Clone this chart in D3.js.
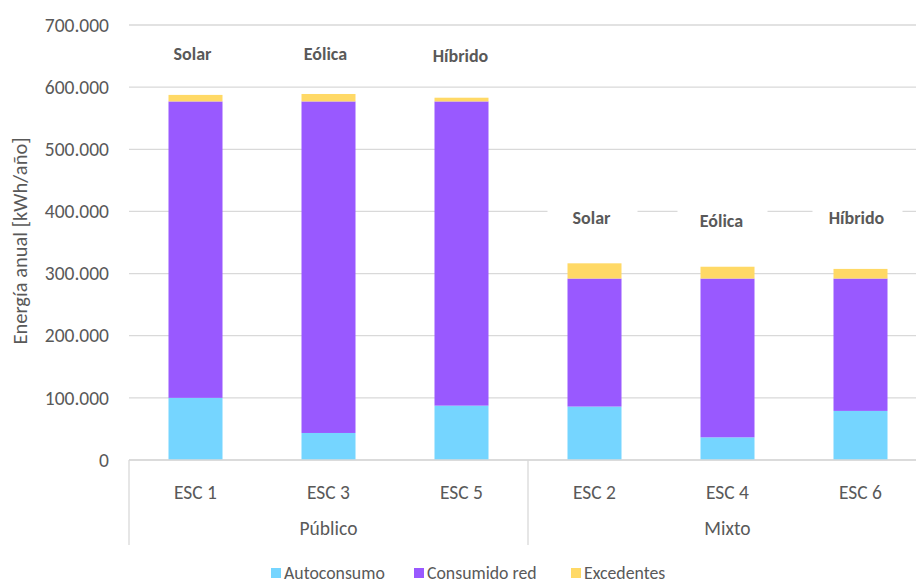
<!DOCTYPE html>
<html><head><meta charset="utf-8">
<script src="https://cdn.jsdelivr.net/npm/d3@7"></script>
<style>
html,body{margin:0;padding:0;background:#fff;}
svg{display:block;font-family:Carlito, Lato, "Open Sans", sans-serif;}
</style></head>
<body><svg id="c" width="916" height="583"></svg>
<script>
const categories = ["ESC 1","ESC 3","ESC 5","ESC 2","ESC 4","ESC 6"];
const groups = ["Público","Mixto"];
const autoconsumo = [100000, 43500, 87500, 86000, 36500, 79000];
const consumidoRed = [477000, 533500, 489500, 206000, 255500, 213000];
const excedentes = [10500, 12000, 6000, 24500, 19000, 15500];
const seriesNames = ["Autoconsumo","Consumido red","Excedentes"];
const colors = ["#75D5FF","#9959FF","#FFD966"];
const yTicks = [0,100000,200000,300000,400000,500000,600000,700000];
const tecnologia = ["Solar","Eólica","Híbrido","Solar","Eólica","Híbrido"];

const svg = d3.select("#c");
const W = 916, H = 583;
svg.append("rect").attr("width",W).attr("height",H).attr("fill","#fff");

const x = d3.scaleBand().domain(categories).range([129, 927]).paddingInner(0.594).paddingOuter(0.297);
const y = d3.scaleLinear().domain([0,700000]).range([460, 25]);
const loc = d3.formatLocale({decimal:",", thousands:".", grouping:[3], currency:["",""]});
const fmt = loc.format(",.0f");
const textCol = "#595959", gridCol = "#D9D9D9";

// gridlines
svg.append("g").selectAll("line").data(yTicks).join("line")
  .attr("x1",129).attr("x2",W).attr("y1",d=>y(d)).attr("y2",d=>y(d))
  .attr("stroke",gridCol).attr("stroke-width",1.3);

// y tick labels via axis
const yAxis = d3.axisLeft(y).tickValues(yTicks).tickFormat(d=>fmt(d)).tickSize(0).tickPadding(0);
const ya = svg.append("g").attr("transform","translate(109,0)").call(yAxis);
ya.select(".domain").remove();
ya.selectAll("text").attr("fill",textCol).style("font-size","19.5px").style("font-family","Carlito, Lato, sans-serif");

// y title
svg.append("text").attr("transform","translate(20,241) rotate(-90)")
  .attr("text-anchor","middle").attr("dy","0.35em").attr("fill",textCol).style("font-size","20.5px")
  .text("Energía anual [kWh/año]");

// stacked data
const rows = categories.map((c,i)=>({cat:c, Autoconsumo:autoconsumo[i], "Consumido red":consumidoRed[i], Excedentes:excedentes[i]}));
const stack = d3.stack().keys(seriesNames)(rows);
svg.append("g").selectAll("g").data(stack).join("g").attr("fill",(d,i)=>colors[i])
  .selectAll("rect").data(d=>d).join("rect")
  .attr("x",d=>x(d.data.cat)).attr("width",x.bandwidth())
  .attr("y",d=>y(d[1])).attr("height",d=>y(d[0])-y(d[1]));

// category axis
svg.append("line").attr("x1",129).attr("x2",W).attr("y1",y(0)).attr("y2",y(0)).attr("stroke",gridCol).attr("stroke-width",1.3);
const step = x.step();
const boundaries = [0,3,6].map(i=> 129 + i*step);
svg.append("g").selectAll("line").data(boundaries).join("line")
  .attr("x1",d=>d).attr("x2",d=>d).attr("y1",y(0)).attr("y2",545)
  .attr("stroke",gridCol).attr("stroke-width",1.3);
svg.append("g").selectAll("text").data(categories).join("text")
  .attr("x",d=>x(d)+x.bandwidth()/2).attr("y",492).attr("dy","0.35em")
  .attr("text-anchor","middle").attr("fill",textCol).style("font-size","19.5px").text(d=>d);
svg.append("g").selectAll("text").data(groups).join("text")
  .attr("x",(d,i)=>129 + (i*3+1.5)*step).attr("y",528).attr("dy","0.35em")
  .attr("text-anchor","middle").attr("fill",textCol).style("font-size","19.5px").text(d=>d);

// technology labels with white boxes
const labelY = [54,54,56,218,221,218];
const labelDx = [-3,-3,-1,-3,-6,-4];
const lg = svg.append("g").selectAll("g").data(tecnologia).join("g")
  .attr("transform",(d,i)=>`translate(${x(categories[i])+x.bandwidth()/2+labelDx[i]},${labelY[i]})`);
lg.append("rect").attr("x",(d,i)=> i>=3 ? -44 : -40).attr("y",-14).attr("width",(d,i)=>i>=3?90:80).attr("height",28).attr("fill","#fff");
lg.append("text").attr("text-anchor","middle").attr("dy","0.35em").attr("fill",textCol)
  .style("font-size","18px").style("font-weight","bold").text(d=>d);

// legend
const legX = [271, 414, 571];
const leg = svg.append("g").selectAll("g").data(seriesNames).join("g")
  .attr("transform",(d,i)=>`translate(${legX[i]},572)`);
leg.append("rect").attr("x",0).attr("y",-4).attr("width",10).attr("height",10).attr("fill",(d,i)=>colors[i]);
leg.append("text").attr("x",13).attr("dy","0.4em").attr("fill",textCol).style("font-size","17.8px").text(d=>d);
</script></body></html>
